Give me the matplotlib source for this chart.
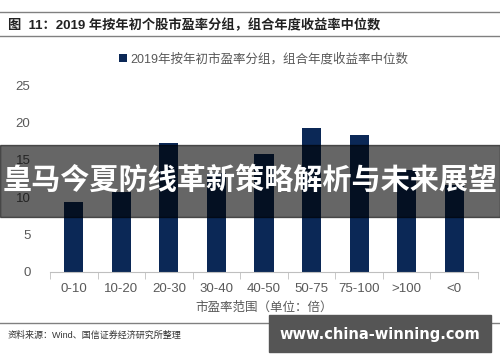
import matplotlib
matplotlib.use("Agg")
import matplotlib.pyplot as plt
from matplotlib.patches import Rectangle
from matplotlib.lines import Line2D

plt.rcParams['font.family'] = ['Liberation Sans', 'Noto Sans CJK SC', 'DejaVu Sans']

# 市盈率分组与收益率中位数
groups = ["0-10", "10-20", "20-30", "30-40", "40-50", "50-75", "75-100", ">100", "<0"]
values = [9.4, 10.7, 17.3, 13.2, 15.8, 19.3, 18.3, 13.6, 11.6]
yticks = [0, 5, 10, 15, 20, 25]

title = "图  11：2019 年按年初个股市盈率分组，组合年度收益率中位数"
legend_label = "2019年按年初市盈率分组，组合年度收益率中位数"
xlabel = "市盈率范围（单位：倍）"
source = "资料来源：Wind、国信证券经济研究所整理"
banner = "皇马今夏防线革新策略解析与未来展望"
site = "www.china-winning.com"

bar_color = "#0b2856"
grey = "#595959"

fig = plt.figure(figsize=(5, 3.62), dpi=100)
ax = fig.add_axes([0.1, 0.249, 0.856, 0.516])

x = range(len(groups))
ax.bar(x, values, width=0.4, color=bar_color, label=legend_label, zorder=2)

ax.set_xlim(-0.5, len(groups) - 0.5)
ax.set_ylim(0, 25)
ax.set_yticks(yticks)
ax.set_xticks(list(x))
ax.set_xticklabels(groups)
ax.set_xticks([i - 0.5 for i in range(len(groups) + 1)], minor=True)
ax.tick_params(axis="x", which="major", length=0, pad=8, labelsize=9.5, labelcolor=grey)
ax.tick_params(axis="x", which="minor", length=5, color="#bfbfbf", direction="out")
ax.tick_params(axis="y", length=0, pad=14, labelsize=9.5, labelcolor=grey)
for s in ["top", "right", "left"]:
    ax.spines[s].set_visible(False)
ax.spines["bottom"].set_color("#bfbfbf")

ax.set_xlabel(xlabel, fontsize=9, color=grey, labelpad=5)

leg = ax.legend(loc="center", bbox_to_anchor=(0.5, 1.14), frameon=False,
                fontsize=9, handlelength=0.6, handleheight=0.6, handletextpad=0.3)
for t in leg.get_texts():
    t.set_color(grey)

# 标题和分隔线
fig.add_artist(Line2D([0, 1], [1 - 12 / 362, 1 - 12 / 362], color="#808080", lw=1))
fig.add_artist(Line2D([0, 1], [1 - 36 / 362, 1 - 36 / 362], color="#808080", lw=1))
fig.text(8 / 500, 1 - 25 / 362, title, fontsize=9.5, fontweight="bold", va="center", color="#222222")
fig.add_artist(Line2D([0, 1], [1 - 323 / 362, 1 - 323 / 362], color="#808080", lw=1))
fig.text(8 / 500, 1 - 335 / 362, source, fontsize=6.5, va="center", color="#333333")

# 水印横幅
fig.add_artist(Rectangle((0, 1 - 217 / 362), 1, 72 / 362, transform=fig.transFigure,
                         color="black", alpha=0.6, zorder=5))
fig.text(0.5, 1 - 181 / 362, banner, fontsize=21, fontweight="bold", color="white",
         ha="center", va="center", zorder=6)

fig.add_artist(Rectangle((269 / 500, 1 - 352 / 362), 222 / 500, 37 / 362, transform=fig.transFigure,
                         color="#555555", zorder=5))
fig.text(380 / 500, 1 - 334 / 362, site, fontsize=10.5, fontweight="bold", color="white",
         family="DejaVu Sans", ha="center", va="center", zorder=6)

fig.savefig("out.png", dpi=100)
